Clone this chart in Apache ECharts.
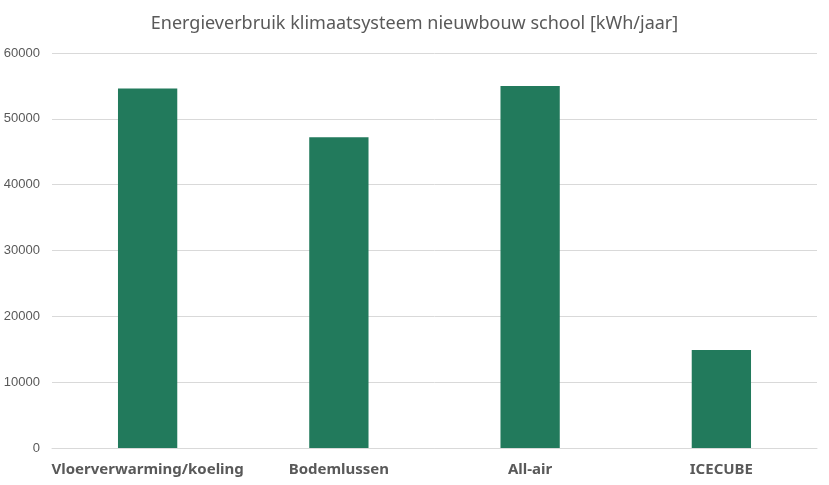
<!DOCTYPE html>
<html><head><meta charset="utf-8">
<script src="https://cdn.jsdelivr.net/npm/echarts@6/dist/echarts.min.js"></script>
<style>html,body{margin:0;padding:0;background:#fff}#c{width:829px;height:485px}</style>
</head><body><div id="c"></div>
<script>
const categories = ["Vloerverwarming/koeling", "Bodemlussen", "All-air", "ICECUBE"];
const values = [54600, 47200, 55000, 14900];
const chart = echarts.init(document.getElementById('c'));
chart.setOption({
  animation: false,
  backgroundColor: '#ffffff',
  title: {
    text: 'Energieverbruik klimaatsysteem nieuwbouw school [kWh/jaar]',
    left: 'center', top: 10,
    textStyle: { fontFamily: 'Noto Sans', fontSize: 18, fontWeight: 'normal', color: '#595959' }
  },
  grid: { left: 52, right: 12, top: 53, bottom: 37, containLabel: false },
  xAxis: {
    type: 'category', data: categories,
    axisLine: { show: true, lineStyle: { color: '#d9d9d9' } },
    axisTick: { show: false },
    axisLabel: { interval: 0, fontFamily: 'Noto Sans', fontSize: 15, fontWeight: 'bold', color: '#595959', margin: 14 }
  },
  yAxis: {
    type: 'value', min: 0, max: 60000, interval: 10000,
    axisLine: { show: false }, axisTick: { show: false },
    splitLine: { lineStyle: { color: '#d9d9d9' } },
    axisLabel: { formatter: v => String(v), fontFamily: 'Liberation Sans', fontSize: 13, color: '#595959', margin: 12 }
  },
  series: [{
    type: 'bar', data: values, barWidth: '31%',
    itemStyle: { color: '#227a5c' }
  }]
});
</script></body></html>
